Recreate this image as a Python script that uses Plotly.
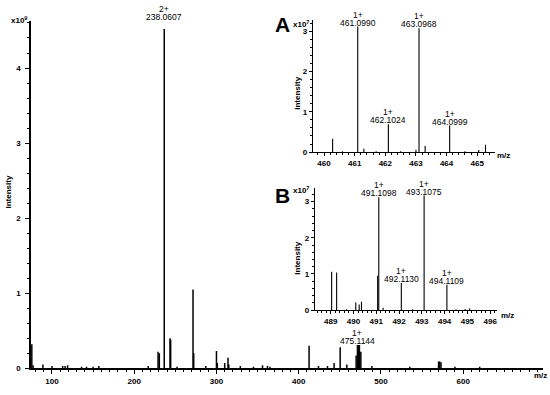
import plotly.graph_objects as go

W, H = 550, 395

# ---------------- data ----------------
main_mz = [75.5, 77, 89, 100, 113, 116, 119, 136, 142, 150, 157, 217, 229, 230.5,
           236.5, 243.5, 244.3, 252, 271.5, 272.3, 287, 300, 301, 310, 314, 315,
           329, 345, 356, 362, 365, 412.6, 424, 435, 443, 450.4, 458.5,
           469.8, 471.4, 472.6, 473.8, 475.5, 489, 535, 570, 571.5, 573, 590, 620]
main_int = [0.32, 0.04, 0.05, 0.03, 0.03, 0.03, 0.04, 0.02, 0.02, 0.02, 0.03, 0.03, 0.22, 0.20,
            4.52, 0.40, 0.38, 0.02, 1.05, 0.20, 0.03, 0.23, 0.07, 0.07, 0.14, 0.05,
            0.03, 0.02, 0.04, 0.03, 0.02, 0.30, 0.03, 0.03, 0.07, 0.28, 0.05,
            0.17, 0.31, 0.31, 0.31, 0.22, 0.03, 0.02, 0.09, 0.09, 0.08, 0.02, 0.02]
main_labels = [(236.5, 4.52, "2+", "238.0607"), (471.4, 0.31, "1+", "475.1144")]

a_mz = [460.28, 460.6, 461.1, 461.3, 461.7, 462.1, 462.5, 463.0, 463.1, 463.3, 464.1, 464.6, 465.05, 465.27]
a_int = [0.33, 0.02, 3.12, 0.08, 0.02, 0.69, 0.02, 0.06, 3.08, 0.15, 0.66, 0.02, 0.05, 0.18]
a_labels = [(461.1, 3.12, "1+", "461.0990"), (463.1, 3.08, "1+", "463.0968"),
            (462.1, 0.69, "1+", "462.1024"), (464.1, 0.66, "1+", "464.0999")]

b_mz = [489.04, 489.26, 489.7, 490.1, 490.25, 490.35, 491.06, 491.11, 491.3, 492.1, 492.6,
        493.1, 494.1, 494.5, 494.9, 495.1]
b_int = [1.06, 1.04, 0.02, 0.21, 0.15, 0.23, 0.95, 3.12, 0.06, 0.75, 0.02,
         3.17, 0.70, 0.02, 0.03, 0.04]
b_labels = [(491.11, 3.12, "1+", "491.1098"), (493.1, 3.17, "1+", "493.1075"),
            (492.1, 0.75, "1+", "492.1130"), (494.1, 0.70, "1+", "494.1109")]


def px(x):
    return x / W


def py(y):
    return 1 - y / H


def sticks(mz, inten):
    xs, ys = [], []
    for m, h in zip(mz, inten):
        xs += [m, m, None]
        ys += [0, h, None]
    return xs, ys


FONT = "Liberation Sans, Arial, sans-serif"
fig = go.Figure()

for (mz, it, xa, ya, w) in [(main_mz, main_int, "x", "y", 1.5),
                            (a_mz, a_int, "x2", "y2", 1.1),
                            (b_mz, b_int, "x3", "y3", 1.1)]:
    xs, ys = sticks(mz, it)
    fig.add_trace(go.Scatter(x=xs, y=ys, mode="lines", xaxis=xa, yaxis=ya,
                             line=dict(color="black", width=w), showlegend=False,
                             hoverinfo="skip"))


def axstyle(rng, dom, dtick, minor, lw=1.2, tl=4, standoff=None):
    d = dict(range=rng, domain=dom, dtick=dtick, tick0=0, showgrid=False, zeroline=False,
             showline=True, linecolor="black", linewidth=lw, ticks="outside",
             ticklen=tl, tickwidth=1, tickcolor="black",
             minor=dict(dtick=minor, ticks="outside", ticklen=2, tickcolor="black", tickwidth=1),
             tickfont=dict(family=FONT, size=8, color="black", weight="bold"),
             fixedrange=True)
    if standoff is not None:
        d["ticklabelstandoff"] = standoff
    return d


layout = dict(
    width=W, height=H, autosize=False,
    margin=dict(l=0, r=0, t=0, b=0),
    paper_bgcolor="white", plot_bgcolor="white",
    xaxis=dict(**axstyle([74.5, 697], [px(31), px(543)], 100, 10, lw=2), anchor="y"),
    yaxis=dict(**axstyle([0, 4.63], [py(373), py(21)], 1, 0.2, lw=1.5, standoff=3), anchor="x"),
    xaxis2=dict(**axstyle([459.64, 465.58], [px(313), px(495)], 1, 0.2, tl=3), anchor="y2"),
    yaxis2=dict(**axstyle([0, 3.29], [py(154), py(20)], 1, 0.2, tl=3), anchor="x2"),
    xaxis3=dict(**axstyle([488.31, 496.3], [px(315), px(497)], 1, 0.2, tl=3), anchor="y3"),
    yaxis3=dict(**axstyle([0, 3.39], [py(314), py(190)], 1, 0.2, tl=3), anchor="x3"),
)
fig.update_layout(**layout)

ann = []
for lbls, xr, yr in [(main_labels, "x", "y"), (a_labels, "x2", "y2"), (b_labels, "x3", "y3")]:
    for (m, h, charge, val) in lbls:
        extra = 8 if h > 4 else 0
        for t, s in [(val, 4 + extra), (charge, 12 + extra)]:
            ann.append(dict(x=m, y=h, xref=xr, yref=yr, text=t, showarrow=False,
                            yanchor="middle", yshift=s, borderpad=0,
                            font=dict(family=FONT, size=8.5, color="black")))


def txt(x, y, t, size=8, bold=True, angle=0, xanchor="center"):
    return dict(x=px(x), y=py(y), xref="paper", yref="paper", text=t, showarrow=False,
                xanchor=xanchor, yanchor="middle", textangle=angle,
                font=dict(family=FONT, size=size, color="black", weight="bold" if bold else "normal"))


ann += [
    txt(9, 195, "Intensity", angle=-90),
    txt(19, 20, "x10<sup>9</sup>"),
    txt(540, 380, "m/z"),
    txt(282, 25, "A", size=21),
    txt(301, 24, "x10<sup>7</sup>"),
    txt(298, 95, "Intensity", angle=-90),
    txt(503, 157, "m/z"),
    txt(282, 198, "B", size=21),
    txt(301, 192, "x10<sup>7</sup>"),
    txt(298, 262, "Intensity", angle=-90),
    txt(507, 320, "m/z"),
]
fig.update_layout(annotations=ann)

fig.write_html("out.html", config={"displayModeBar": False},
               post_script="document.body.style.margin='0';")
